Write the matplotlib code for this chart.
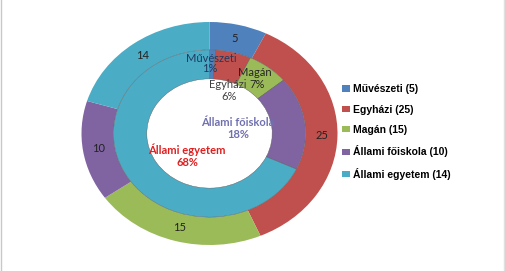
import matplotlib
matplotlib.use("Agg")
import matplotlib.pyplot as plt
import numpy as np

categories = ["Művészeti", "Egyházi", "Magán", "Állami főiskola", "Állami egyetem"]
outer_values = [5, 25, 15, 10, 14]
inner_values = [1, 6, 7, 18, 68]
colors = ["#4F81BD", "#C0504D", "#9BBB59", "#8064A2", "#4BACC6"]

W, H = 505, 271
fig = plt.figure(figsize=(W / 100, H / 100), dpi=100)
cx, cy, rx, ry = 209.5, 133.5, 128, 111.5
ax = fig.add_axes([(cx - rx) / W, (H - cy - ry) / H, 2 * rx / W, 2 * ry / H])

outer_w, _ = ax.pie(outer_values, colors=colors, startangle=90, counterclock=False,
                    radius=1.0, wedgeprops=dict(width=0.25, edgecolor="none"))
inner_w, _ = ax.pie(inner_values, colors=colors, startangle=90, counterclock=False,
                    radius=0.75, wedgeprops=dict(width=0.26, edgecolor="#5a5a5a", linewidth=0.3))
ax.set_aspect("auto")
ax.set_xlim(-1, 1)
ax.set_ylim(-1, 1)
ax.axis("off")

# outer value labels
tot = sum(outer_values)
cum = 0
for v in outer_values:
    mid = 90 - (cum + v / 2) / tot * 360
    r = 0.875
    ax.text(r * np.cos(np.radians(mid)), r * np.sin(np.radians(mid)), str(v),
            ha="center", va="center", fontsize=8, family="Lato", color="#222222")
    cum += v

def px(x, y):
    return (x - cx) / rx, (cy - y) / ry

lbl = dict(ha="center", va="center", family="Lato", fontsize=8)
ax.text(*px(211, 58), "Művészeti", color="#1F3A5F", **lbl)
ax.text(*px(210, 69), "1%", color="#1F3A5F", **lbl)
ax.text(*px(228, 85), "Egyházi", color="#404040", **lbl)
ax.text(*px(229, 97), "6%", color="#404040", **lbl)
ax.text(*px(255, 72), "Magán", color="#262626", **lbl)
ax.text(*px(257, 84), "7%", color="#262626", **lbl)
ax.text(*px(238, 122), "Állami főiskola", color="#7070B0", fontweight="bold", **lbl)
ax.text(*px(238, 134), "18%", color="#7070B0", fontweight="bold", **lbl)
ax.text(*px(187, 150), "Állami egyetem", color="#E01E1E", fontweight="bold", **lbl)
ax.text(*px(187, 163), "68%", color="#E01E1E", fontweight="bold", **lbl)

labels = [f"{c} ({v})" for c, v in zip(categories, outer_values)]
fig.legend(outer_w, labels, loc="center left", bbox_to_anchor=(333 / W, (H - 132) / H),
           frameon=False, prop=dict(family="Liberation Sans", weight="bold", size=7.5),
           handlelength=0.7, handleheight=0.55, handletextpad=0.3, labelspacing=1.0)

# thin frame at edges
fig.add_artist(plt.Line2D([0.5 / W, 0.5 / W], [0, 1], color="#c8c8c8", lw=1))
fig.add_artist(plt.Line2D([1 - 1.5 / W, 1 - 1.5 / W], [0, 1], color="#e0e0e0", lw=1))

fig.savefig("out.png", dpi=100)
